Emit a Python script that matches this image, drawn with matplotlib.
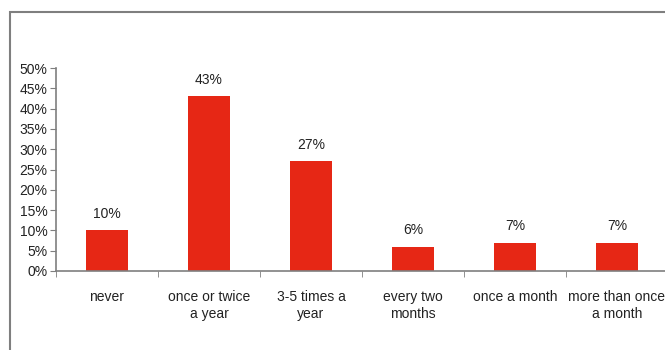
import matplotlib.pyplot as plt
from matplotlib.patches import Rectangle
from matplotlib.ticker import FixedLocator, PercentFormatter

plt.rcParams['font.family'] = ['Liberation Sans', 'DejaVu Sans']

categories = ['never', 'once or twice\na year', '3-5 times a\nyear',
              'every two\nmonths', 'once a month', 'more than once\na month']
shares = [10, 43, 27, 6, 7, 7]
value_labels = ['10%', '43%', '27%', '6%', '7%', '7%']

fig = plt.figure(figsize=(6.65, 3.5), dpi=100)

# outer chart border, running off the right and bottom edges
fig.patches.append(Rectangle((10 / 665, -0.1), 1.2, 1 - 12 / 350 + 0.1,
                             transform=fig.transFigure, fill=False,
                             edgecolor='#7f7f7f', linewidth=1.5))

ax = fig.add_axes([56 / 665, 79 / 350, 612 / 665, 203 / 350])
x = range(len(categories))
bars = ax.bar(x, shares, width=0.42, color='#E62715')

for bar, text in zip(bars, value_labels):
    ax.annotate(text, (bar.get_x() + bar.get_width() / 2, bar.get_height()),
                xytext=(0, 7), textcoords='offset points',
                ha='center', va='bottom', fontsize=10, color='#222222')

ax.set_xlim(-0.5, len(categories) - 0.5)
ax.set_ylim(0, 50)
ax.set_yticks(range(0, 51, 5))
ax.yaxis.set_major_formatter(PercentFormatter(decimals=0))
ax.set_xticks(list(x))
ax.set_xticklabels(categories, fontsize=10, color='#222222', linespacing=1.25)
ax.xaxis.set_minor_locator(FixedLocator([i - 0.5 for i in range(len(categories) + 1)]))

ax.tick_params(axis='x', which='major', length=0, pad=14)
ax.tick_params(axis='x', which='minor', length=4, color='#7f7f7f')
ax.tick_params(axis='y', length=4, color='#7f7f7f', labelsize=10,
               labelcolor='#222222', pad=2)

for side in ['top', 'right']:
    ax.spines[side].set_visible(False)
for side in ['left', 'bottom']:
    ax.spines[side].set_color('#7f7f7f')
    ax.spines[side].set_linewidth(1.2)

fig.savefig('out.png', dpi=100)
